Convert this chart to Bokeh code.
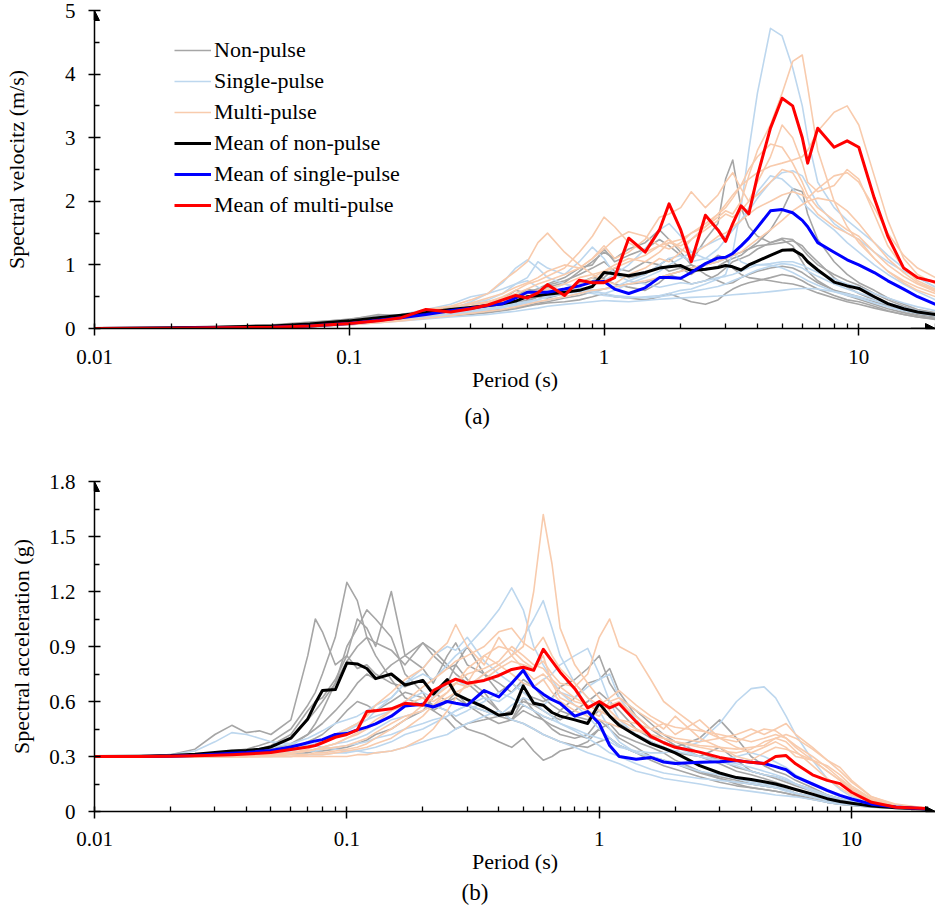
from bokeh.plotting import figure
from bokeh.layouts import column
from bokeh.models import (Range1d, FixedTicker, CustomJSTickFormatter, Legend,
                          LegendItem, Title, Arrow, NormalHead)
from bokeh.embed import file_html
from bokeh.resources import INLINE

FONT = "Liberation Serif"

# ---------------- (a) spectral velocity ----------------
period_v = [0.01, 0.02, 0.03, 0.05, 0.07,
            0.1, 0.13, 0.16, 0.2, 0.25, 0.3, 0.35, 0.4, 0.45,
            0.5, 0.55, 0.6, 0.7, 0.8, 0.9, 1.0, 1.1, 1.25,
            1.45, 1.65, 1.8, 2.0, 2.2, 2.5, 2.8, 3.0, 3.2,
            3.45, 3.7, 4.0, 4.5, 5.0, 5.5, 6.0, 6.3, 6.9,
            8.0, 9.0, 10, 11.5, 13, 15, 17, 20]

sv_non_1 = [0.0, 0.01, 0.02, 0.05, 0.09,
            0.15, 0.20, 0.22, 0.28, 0.33, 0.38, 0.42, 0.47, 0.60,
            0.55, 0.62, 0.70, 0.80, 0.95, 1.00, 1.25, 1.05, 1.15,
            1.25, 1.40, 1.30, 1.15, 1.05, 1.40, 1.65, 2.35, 2.65,
            1.90, 1.60, 1.45, 1.35, 1.40, 1.30, 1.05, 0.90, 0.75,
            0.60, 0.55, 0.50, 0.42, 0.35, 0.28, 0.24, 0.20]
sv_non_2 = [0.0, 0.01, 0.02, 0.04, 0.07,
            0.12, 0.18, 0.20, 0.22, 0.27, 0.30, 0.35, 0.40, 0.38,
            0.42, 0.50, 0.55, 0.62, 0.66, 0.75, 0.80, 0.95, 0.90,
            1.05, 1.00, 0.90, 0.95, 1.00, 0.92, 0.98, 1.05, 1.10,
            1.15, 1.25, 1.35, 1.55, 1.85, 2.20, 2.15, 1.80, 1.40,
            1.05, 0.85, 0.72, 0.60, 0.48, 0.38, 0.30, 0.25]
sv_non_3 = [0.0, 0.01, 0.02, 0.04, 0.06,
            0.10, 0.14, 0.18, 0.20, 0.25, 0.28, 0.32, 0.35, 0.40,
            0.45, 0.50, 0.48, 0.55, 0.72, 0.80, 0.78, 0.70, 0.65,
            0.60, 0.72, 0.85, 0.78, 0.70, 0.75, 0.85, 0.95, 1.05,
            1.10, 1.15, 1.25, 1.35, 1.42, 1.40, 1.25, 1.15, 1.00,
            0.85, 0.75, 0.68, 0.55, 0.45, 0.35, 0.28, 0.22]
sv_non_4 = [0.0, 0.01, 0.02, 0.04, 0.06,
            0.10, 0.13, 0.16, 0.18, 0.20, 0.22, 0.25, 0.28, 0.31,
            0.35, 0.38, 0.40, 0.42, 0.45, 0.50, 0.55, 0.50, 0.48,
            0.45, 0.50, 0.55, 0.48, 0.42, 0.38, 0.45, 0.55, 0.62,
            0.68, 0.72, 0.75, 0.80, 0.85, 0.82, 0.75, 0.70, 0.62,
            0.52, 0.45, 0.42, 0.35, 0.28, 0.22, 0.18, 0.14]
sv_non_5 = [0.0, 0.01, 0.03, 0.06, 0.10,
            0.14, 0.22, 0.20, 0.25, 0.28, 0.33, 0.38, 0.42, 0.50,
            0.62, 0.58, 0.65, 0.72, 0.90, 1.05, 1.20, 1.10, 1.25,
            1.35, 1.55, 1.40, 1.20, 1.00, 0.85, 0.75, 0.70, 0.72,
            0.80, 0.85, 0.90, 0.95, 0.98, 0.95, 0.88, 0.82, 0.72,
            0.60, 0.52, 0.46, 0.38, 0.31, 0.25, 0.20, 0.16]
sv_non_6 = [0.0, 0.01, 0.02, 0.04, 0.07,
            0.11, 0.16, 0.19, 0.24, 0.30, 0.34, 0.40, 0.45, 0.52,
            0.58, 0.62, 0.68, 0.75, 0.85, 0.95, 1.05, 0.90, 0.80,
            0.85, 1.00, 1.10, 0.95, 0.85, 1.00, 1.15, 1.10, 0.95,
            0.85, 0.80, 0.78, 0.75, 0.72, 0.70, 0.66, 0.62, 0.56,
            0.48, 0.42, 0.38, 0.32, 0.27, 0.22, 0.18, 0.15]
sv_non_7 = [0.0, 0.01, 0.02, 0.03, 0.05,
            0.09, 0.12, 0.14, 0.17, 0.21, 0.25, 0.28, 0.30, 0.33,
            0.36, 0.40, 0.42, 0.48, 0.52, 0.58, 0.62, 0.66, 0.70,
            0.72, 0.80, 0.85, 0.90, 0.95, 1.00, 1.05, 1.10, 1.15,
            1.20, 1.25, 1.30, 1.32, 1.35, 1.38, 1.30, 1.20, 1.05,
            0.80, 0.65, 0.55, 0.45, 0.36, 0.28, 0.22, 0.18]

sv_single_1 = [0.0, 0.005, 0.01, 0.02, 0.04,
               0.07, 0.11, 0.15, 0.18, 0.22, 0.28, 0.32, 0.35, 0.40,
               0.42, 0.45, 0.50, 0.55, 0.58, 0.55, 0.52, 0.50, 0.48,
               0.50, 0.52, 0.55, 0.60, 0.62, 0.70, 0.78, 0.85, 1.20,
               1.90, 2.80, 3.70, 4.72, 4.60, 4.10, 3.50, 3.00, 2.30,
               1.90, 1.70, 1.55, 1.35, 1.15, 0.95, 0.80, 0.65]
sv_single_2 = [0.0, 0.005, 0.01, 0.03, 0.05,
               0.09, 0.15, 0.20, 0.25, 0.30, 0.40, 0.45, 0.55, 0.70,
               0.75, 0.65, 0.60, 0.70, 0.65, 0.60, 0.55, 0.60, 0.70,
               0.80, 0.90, 1.00, 1.10, 1.20, 1.30, 1.40, 1.45, 1.55,
               1.70, 1.85, 2.05, 2.30, 2.45, 2.48, 2.40, 2.25, 1.95,
               1.65, 1.50, 1.40, 1.20, 1.05, 0.90, 0.80, 0.65]
sv_single_3 = [0.0, 0.005, 0.01, 0.02, 0.03,
               0.06, 0.09, 0.12, 0.15, 0.18, 0.20, 0.22, 0.25, 0.27,
               0.30, 0.32, 0.35, 0.38, 0.40, 0.42, 0.44, 0.43, 0.42,
               0.44, 0.46, 0.47, 0.48, 0.49, 0.50, 0.51, 0.52, 0.53,
               0.54, 0.55, 0.56, 0.58, 0.60, 0.62, 0.63, 0.63, 0.62,
               0.58, 0.54, 0.50, 0.44, 0.38, 0.32, 0.27, 0.22]
sv_single_4 = [0.0, 0.01, 0.02, 0.04, 0.06,
               0.10, 0.18, 0.22, 0.30, 0.38, 0.50, 0.55, 0.62, 0.70,
               0.80, 1.05, 0.95, 0.85, 1.05, 1.28, 1.10, 0.85, 0.75,
               0.70, 0.65, 0.68, 0.72, 0.70, 0.75, 0.80, 0.82, 0.85,
               0.90, 0.95, 1.00, 1.00, 0.95, 0.88, 0.80, 0.75, 0.68,
               0.58, 0.52, 0.48, 0.40, 0.34, 0.28, 0.24, 0.20]
sv_single_5 = [0.0, 0.005, 0.01, 0.02, 0.04,
               0.08, 0.12, 0.15, 0.20, 0.24, 0.27, 0.30, 0.33, 0.36,
               0.40, 0.42, 0.45, 0.50, 0.55, 0.60, 0.62, 0.65, 0.75,
               0.85, 1.00, 1.10, 1.15, 1.05, 1.10, 1.25, 1.40, 1.55,
               1.70, 1.90, 2.15, 2.40, 2.35, 2.20, 2.00, 1.90, 1.75,
               1.55, 1.35, 1.20, 1.00, 0.85, 0.70, 0.58, 0.45]
sv_single_6 = [0.0, 0.005, 0.01, 0.02, 0.04,
               0.07, 0.10, 0.13, 0.17, 0.21, 0.25, 0.29, 0.33, 0.38,
               0.42, 0.46, 0.50, 0.55, 0.60, 0.68, 0.75, 0.85, 1.00,
               1.25, 1.55, 1.65, 1.45, 1.20, 1.10, 1.05, 1.10, 1.20,
               1.05, 1.00, 1.00, 1.02, 1.05, 1.05, 1.00, 0.95, 0.88,
               0.78, 0.70, 0.65, 0.55, 0.48, 0.40, 0.34, 0.28]
sv_single_7 = [0.0, 0.005, 0.01, 0.02, 0.03,
               0.06, 0.09, 0.14, 0.20, 0.30, 0.42, 0.55, 0.72, 0.95,
               1.08, 0.95, 0.80, 0.70, 0.62, 0.58, 0.55, 0.52, 0.50,
               0.48, 0.50, 0.52, 0.55, 0.58, 0.62, 0.66, 0.70, 0.75,
               0.80, 0.86, 0.92, 0.98, 1.02, 1.00, 0.95, 0.90, 0.82,
               0.70, 0.62, 0.56, 0.48, 0.40, 0.33, 0.28, 0.23]

sv_multi_1 = [0.0, 0.005, 0.01, 0.02, 0.04,
              0.08, 0.12, 0.18, 0.28, 0.35, 0.45, 0.55, 0.75, 0.90,
              1.05, 1.35, 1.50, 1.20, 1.00, 0.85, 0.75, 0.70, 0.85,
              0.95, 1.10, 1.05, 1.20, 1.40, 1.60, 1.75, 1.85, 1.80,
              2.00, 2.40, 2.80, 3.20, 3.70, 4.20, 4.30, 3.80, 2.80,
              2.00, 1.60, 1.35, 1.10, 0.90, 0.75, 0.65, 0.55]
sv_multi_2 = [0.0, 0.005, 0.01, 0.02, 0.03,
              0.06, 0.10, 0.14, 0.22, 0.30, 0.35, 0.40, 0.45, 0.50,
              0.55, 0.58, 0.62, 0.70, 0.80, 0.85, 0.90, 0.95, 1.05,
              1.15, 1.30, 1.35, 1.40, 1.50, 1.60, 1.80, 1.95, 2.10,
              2.25, 2.35, 2.45, 2.55, 2.60, 2.65, 2.70, 2.80, 3.10,
              3.40, 3.50, 3.20, 2.40, 1.70, 1.10, 0.85, 0.70]
sv_multi_3 = [0.0, 0.005, 0.01, 0.02, 0.04,
              0.07, 0.11, 0.15, 0.20, 0.26, 0.32, 0.38, 0.42, 0.48,
              0.55, 0.60, 0.58, 0.62, 0.70, 0.80, 0.90, 1.00, 1.10,
              1.05, 1.20, 1.35, 1.30, 1.40, 1.55, 1.70, 1.80, 1.75,
              1.85, 2.00, 2.30, 2.70, 3.20, 3.00, 2.60, 2.30, 2.15,
              2.25, 2.50, 2.35, 1.80, 1.30, 0.95, 0.75, 0.62]
sv_multi_4 = [0.0, 0.005, 0.01, 0.03, 0.05,
              0.09, 0.14, 0.18, 0.25, 0.32, 0.40, 0.48, 0.55, 0.65,
              0.72, 0.80, 0.90, 1.00, 0.95, 1.10, 1.30, 1.10, 1.20,
              1.40, 1.75, 1.80, 1.90, 2.15, 1.90, 2.10, 2.30, 2.45,
              2.20, 2.00, 2.10, 2.30, 2.50, 2.45, 2.20, 2.00, 1.80,
              1.60, 1.50, 1.40, 1.10, 0.90, 0.72, 0.60, 0.50]
sv_multi_5 = [0.0, 0.01, 0.02, 0.04, 0.06,
              0.10, 0.15, 0.20, 0.30, 0.35, 0.38, 0.42, 0.50, 0.60,
              0.70, 0.75, 0.82, 0.95, 1.20, 1.45, 1.75, 1.60, 1.35,
              1.20, 1.30, 1.40, 1.25, 1.15, 1.30, 1.45, 1.50, 1.60,
              1.70, 1.80, 1.90, 2.00, 2.10, 2.15, 2.10, 2.05, 2.20,
              2.40, 2.45, 2.30, 1.90, 1.50, 1.15, 0.95, 0.80]
sv_multi_6 = [0.0, 0.005, 0.01, 0.02, 0.03,
              0.06, 0.09, 0.12, 0.16, 0.20, 0.24, 0.27, 0.30, 0.34,
              0.38, 0.42, 0.45, 0.50, 0.55, 0.60, 0.62, 0.65, 0.70,
              0.75, 0.80, 0.85, 0.90, 0.95, 1.00, 1.05, 1.10, 1.15,
              1.20, 1.30, 1.40, 1.55, 1.70, 1.85, 1.95, 2.00, 2.05,
              2.00, 1.85, 1.65, 1.35, 1.10, 0.88, 0.72, 0.60]
sv_multi_7 = [0.0, 0.005, 0.01, 0.03, 0.05,
              0.08, 0.12, 0.16, 0.22, 0.28, 0.33, 0.40, 0.48, 0.55,
              0.62, 0.70, 0.75, 0.85, 0.95, 1.10, 1.25, 1.40, 1.52,
              1.45, 1.30, 1.25, 1.35, 1.50, 1.65, 1.80, 1.90, 2.05,
              2.25, 2.50, 2.70, 2.90, 2.85, 2.60, 2.30, 2.10, 1.90,
              1.70, 1.55, 1.45, 1.20, 1.00, 0.82, 0.70, 0.58]

sv_mean_non = [0.0, 0.01, 0.02, 0.04, 0.07,
               0.12, 0.17, 0.21, 0.25, 0.30, 0.33, 0.36, 0.39, 0.43,
               0.50, 0.52, 0.54, 0.57, 0.60, 0.66, 0.88, 0.86, 0.83,
               0.88, 0.95, 0.97, 0.99, 0.91, 0.93, 0.96, 0.99, 0.97,
               0.92, 1.00, 1.06, 1.15, 1.23, 1.24, 1.15, 1.05, 0.92,
               0.73, 0.67, 0.63, 0.50, 0.39, 0.31, 0.26, 0.22]
sv_mean_single = [0.0, 0.005, 0.01, 0.02, 0.04,
                  0.08, 0.13, 0.17, 0.22, 0.28, 0.32, 0.36, 0.39, 0.48,
                  0.57, 0.57, 0.57, 0.62, 0.67, 0.73, 0.74, 0.62, 0.55,
                  0.64, 0.80, 0.80, 0.79, 0.88, 1.02, 1.11, 1.12, 1.18,
                  1.30, 1.42, 1.59, 1.85, 1.87, 1.82, 1.70, 1.60, 1.35,
                  1.20, 1.08, 1.00, 0.88, 0.75, 0.62, 0.50, 0.38]
sv_mean_multi = [0.0, 0.005, 0.01, 0.02, 0.04,
                 0.08, 0.12, 0.17, 0.30, 0.26, 0.31, 0.37, 0.45, 0.52,
                 0.48, 0.56, 0.69, 0.52, 0.76, 0.72, 0.72, 0.80, 1.42,
                 1.20, 1.55, 1.96, 1.55, 1.05, 1.78, 1.55, 1.37, 1.65,
                 1.93, 1.80, 2.40, 3.15, 3.62, 3.50, 3.00, 2.60, 3.15,
                 2.85, 2.95, 2.85, 2.05, 1.45, 0.95, 0.80, 0.73]

# ---------------- (b) spectral acceleration ----------------
period_a = [0.01, 0.015, 0.02, 0.025, 0.03, 0.035, 0.04, 0.045, 0.05, 0.06, 0.07, 0.075, 0.08, 0.09,
            0.1, 0.11, 0.12, 0.13, 0.15, 0.17, 0.2, 0.22, 0.25, 0.27, 0.3, 0.35, 0.4, 0.45, 0.5, 0.55,
            0.6, 0.65, 0.7, 0.8, 0.9,
            1.0, 1.1, 1.2, 1.4, 1.6, 1.8, 2.0, 2.5, 3.0, 3.5, 4.0, 4.5, 5.0, 5.5, 6.0, 7.0, 8.0, 9.0,
            10, 12, 15, 20]

sa_non_1 = [0.30, 0.30, 0.31, 0.34, 0.42, 0.47, 0.43, 0.44, 0.42, 0.50, 0.85, 1.05, 0.98, 0.80,
            0.85, 0.78, 0.80, 0.75, 0.70, 0.68, 0.72, 0.65, 0.60, 0.62, 0.58, 0.55, 0.52, 0.50, 0.55, 0.52, 0.50, 0.47, 0.45, 0.42, 0.40,
            0.45, 0.40, 0.36, 0.32, 0.30, 0.28, 0.26, 0.21, 0.18, 0.16, 0.15, 0.14, 0.13, 0.12, 0.10, 0.08, 0.06, 0.05,
            0.04, 0.03, 0.02, 0.012]
sa_non_2 = [0.30, 0.30, 0.30, 0.31, 0.32, 0.33, 0.34, 0.36, 0.38, 0.45, 0.58, 0.65, 0.75, 0.95,
            1.25, 1.15, 0.95, 0.92, 0.88, 0.80, 0.92, 0.85, 0.78, 0.80, 0.72, 0.65, 0.55, 0.50, 0.62, 0.55, 0.50, 0.45, 0.42, 0.40, 0.42,
            0.50, 0.45, 0.40, 0.35, 0.30, 0.28, 0.26, 0.22, 0.19, 0.17, 0.15, 0.14, 0.13, 0.12, 0.10, 0.08, 0.06, 0.05,
            0.04, 0.03, 0.02, 0.012]
sa_non_3 = [0.30, 0.30, 0.30, 0.31, 0.31, 0.32, 0.33, 0.34, 0.36, 0.42, 0.55, 0.60, 0.62, 0.72,
            0.85, 1.05, 1.00, 0.90, 1.20, 0.85, 0.78, 0.70, 0.85, 0.92, 0.80, 0.75, 0.70, 0.65, 0.72, 0.68, 0.62, 0.58, 0.55, 0.52, 0.50,
            0.55, 0.52, 0.48, 0.42, 0.38, 0.35, 0.32, 0.30, 0.35, 0.28, 0.22, 0.20, 0.18, 0.16, 0.14, 0.11, 0.08, 0.06,
            0.05, 0.035, 0.022, 0.013]
sa_non_4 = [0.30, 0.30, 0.30, 0.31, 0.31, 0.32, 0.32, 0.33, 0.35, 0.40, 0.50, 0.55, 0.60, 0.70,
            0.90, 1.00, 1.10, 1.05, 0.95, 0.75, 0.65, 0.55, 0.50, 0.45, 0.48, 0.50, 0.52, 0.55, 0.60, 0.58, 0.55, 0.52, 0.50, 0.55, 0.60,
            0.65, 0.60, 0.55, 0.45, 0.40, 0.38, 0.35, 0.40, 0.50, 0.40, 0.30, 0.25, 0.22, 0.20, 0.17, 0.13, 0.09, 0.07,
            0.05, 0.035, 0.022, 0.013]
sa_non_5 = [0.30, 0.30, 0.30, 0.30, 0.31, 0.31, 0.31, 0.32, 0.32, 0.34, 0.38, 0.40, 0.42, 0.48,
            0.55, 0.60, 0.58, 0.55, 0.60, 0.65, 0.62, 0.58, 0.55, 0.50, 0.45, 0.42, 0.38, 0.35, 0.40, 0.33, 0.28, 0.30, 0.33, 0.35, 0.38,
            0.45, 0.48, 0.42, 0.38, 0.35, 0.32, 0.28, 0.22, 0.18, 0.15, 0.13, 0.12, 0.11, 0.10, 0.09, 0.07, 0.05, 0.04,
            0.035, 0.025, 0.018, 0.012]
sa_non_6 = [0.30, 0.30, 0.30, 0.30, 0.30, 0.31, 0.31, 0.31, 0.31, 0.32, 0.32, 0.33, 0.33, 0.34,
            0.35, 0.37, 0.39, 0.42, 0.45, 0.50, 0.55, 0.62, 0.70, 0.80, 0.90, 0.75, 0.65, 0.70, 0.65, 0.62, 0.60, 0.62, 0.68, 0.72, 0.78,
            0.85, 0.70, 0.62, 0.55, 0.48, 0.42, 0.38, 0.32, 0.28, 0.24, 0.22, 0.20, 0.19, 0.17, 0.15, 0.12, 0.09, 0.07,
            0.055, 0.04, 0.025, 0.015]
sa_non_7 = [0.30, 0.30, 0.30, 0.31, 0.31, 0.32, 0.32, 0.33, 0.34, 0.37, 0.42, 0.45, 0.48, 0.55,
            0.62, 0.70, 0.75, 0.72, 0.80, 0.85, 0.92, 0.88, 0.80, 0.75, 0.70, 0.62, 0.55, 0.50, 0.48, 0.45, 0.42, 0.40, 0.38, 0.36, 0.35,
            0.38, 0.40, 0.36, 0.32, 0.28, 0.25, 0.23, 0.19, 0.16, 0.14, 0.13, 0.12, 0.11, 0.10, 0.085, 0.065, 0.05, 0.04,
            0.033, 0.024, 0.017, 0.011]
sa_non_8 = [0.30, 0.30, 0.30, 0.30, 0.31, 0.31, 0.32, 0.32, 0.33, 0.36, 0.42, 0.48, 0.55, 0.70,
            0.82, 0.90, 0.95, 0.85, 0.72, 0.62, 0.58, 0.55, 0.60, 0.65, 0.58, 0.52, 0.48, 0.50, 0.58, 0.55, 0.52, 0.50, 0.55, 0.62, 0.70,
            0.72, 0.78, 0.65, 0.52, 0.45, 0.40, 0.36, 0.30, 0.26, 0.22, 0.20, 0.18, 0.16, 0.14, 0.12, 0.09, 0.07, 0.055,
            0.045, 0.03, 0.02, 0.012]

sa_single_1 = [0.30, 0.30, 0.30, 0.30, 0.31, 0.32, 0.33, 0.34, 0.35, 0.37, 0.40, 0.42, 0.44, 0.48,
               0.50, 0.52, 0.55, 0.58, 0.62, 0.70, 0.75, 0.72, 0.80, 0.85, 0.90, 1.00, 1.10, 1.22, 1.10, 0.90, 0.80, 0.72, 0.65, 0.58, 0.52,
               0.45, 0.40, 0.36, 0.32, 0.30, 0.28, 0.26, 0.22, 0.20, 0.18, 0.16, 0.15, 0.14, 0.12, 0.10, 0.08, 0.06, 0.05,
               0.04, 0.03, 0.02, 0.012]
sa_single_2 = [0.30, 0.30, 0.30, 0.30, 0.30, 0.30, 0.31, 0.31, 0.32, 0.33, 0.35, 0.36, 0.38, 0.42,
               0.45, 0.48, 0.50, 0.52, 0.55, 0.60, 0.65, 0.62, 0.70, 0.72, 0.68, 0.75, 0.80, 0.85, 0.95, 1.05, 1.15, 1.00, 0.85, 0.70, 0.62,
               0.55, 0.45, 0.38, 0.32, 0.30, 0.28, 0.27, 0.26, 0.28, 0.30, 0.32, 0.30, 0.27, 0.24, 0.20, 0.15, 0.11, 0.08,
               0.06, 0.04, 0.025, 0.015]
sa_single_3 = [0.30, 0.30, 0.30, 0.30, 0.30, 0.30, 0.30, 0.31, 0.31, 0.32, 0.33, 0.34, 0.35, 0.37,
               0.38, 0.40, 0.42, 0.45, 0.50, 0.52, 0.55, 0.58, 0.55, 0.52, 0.55, 0.60, 0.65, 0.62, 0.58, 0.55, 0.52, 0.50, 0.48, 0.45, 0.42,
               0.40, 0.38, 0.35, 0.33, 0.32, 0.32, 0.33, 0.38, 0.48, 0.60, 0.67, 0.68, 0.62, 0.52, 0.42, 0.28, 0.18, 0.12,
               0.08, 0.045, 0.025, 0.015]
sa_single_4 = [0.30, 0.30, 0.31, 0.33, 0.38, 0.43, 0.42, 0.40, 0.38, 0.37, 0.36, 0.36, 0.35, 0.34,
               0.33, 0.33, 0.32, 0.32, 0.33, 0.35, 0.38, 0.40, 0.42, 0.45, 0.48, 0.52, 0.55, 0.50, 0.48, 0.45, 0.42, 0.40, 0.38, 0.35, 0.32,
               0.30, 0.28, 0.26, 0.22, 0.20, 0.18, 0.17, 0.15, 0.13, 0.12, 0.11, 0.10, 0.09, 0.085, 0.08, 0.065, 0.05, 0.04,
               0.035, 0.025, 0.018, 0.012]
sa_single_5 = [0.30, 0.30, 0.30, 0.30, 0.30, 0.30, 0.30, 0.31, 0.31, 0.32, 0.33, 0.33, 0.34, 0.35,
               0.36, 0.37, 0.38, 0.40, 0.42, 0.45, 0.48, 0.50, 0.52, 0.55, 0.58, 0.62, 0.60, 0.65, 0.70, 0.68, 0.72, 0.75, 0.80, 0.85, 0.89,
               0.75, 0.60, 0.50, 0.42, 0.38, 0.35, 0.33, 0.30, 0.28, 0.26, 0.24, 0.22, 0.20, 0.18, 0.15, 0.12, 0.09, 0.07,
               0.055, 0.035, 0.022, 0.013]
sa_single_6 = [0.30, 0.30, 0.30, 0.30, 0.30, 0.31, 0.31, 0.32, 0.32, 0.34, 0.36, 0.37, 0.38, 0.41,
               0.44, 0.47, 0.50, 0.55, 0.62, 0.70, 0.78, 0.85, 0.90, 0.88, 0.95, 0.82, 0.75, 0.70, 0.65, 0.60, 0.55, 0.52, 0.48, 0.44, 0.40,
               0.36, 0.32, 0.30, 0.26, 0.23, 0.21, 0.20, 0.18, 0.17, 0.16, 0.15, 0.14, 0.13, 0.11, 0.10, 0.08, 0.06, 0.05,
               0.04, 0.028, 0.02, 0.012]
sa_single_7 = [0.30, 0.30, 0.30, 0.30, 0.30, 0.30, 0.30, 0.30, 0.30, 0.30, 0.31, 0.31, 0.31, 0.32,
               0.32, 0.33, 0.34, 0.35, 0.38, 0.42, 0.45, 0.48, 0.52, 0.55, 0.58, 0.55, 0.52, 0.58, 0.62, 0.60, 0.58, 0.62, 0.65, 0.62, 0.68,
               0.72, 0.75, 0.62, 0.50, 0.42, 0.38, 0.35, 0.30, 0.27, 0.25, 0.22, 0.20, 0.19, 0.17, 0.15, 0.11, 0.08, 0.06,
               0.045, 0.03, 0.02, 0.012]

sa_multi_1 = [0.30, 0.30, 0.30, 0.30, 0.30, 0.30, 0.30, 0.31, 0.31, 0.32, 0.33, 0.34, 0.35, 0.37,
              0.40, 0.42, 0.45, 0.48, 0.55, 0.58, 0.62, 0.60, 0.65, 0.70, 0.68, 0.75, 0.80, 0.85, 0.90, 1.20, 1.62, 1.35, 1.00, 0.80, 0.70,
              0.62, 0.55, 0.50, 0.45, 0.42, 0.40, 0.38, 0.35, 0.33, 0.32, 0.34, 0.38, 0.40, 0.38, 0.33, 0.25, 0.18, 0.13,
              0.09, 0.05, 0.03, 0.016]
sa_multi_2 = [0.30, 0.30, 0.30, 0.30, 0.30, 0.30, 0.30, 0.30, 0.31, 0.32, 0.33, 0.34, 0.34, 0.35,
              0.36, 0.38, 0.40, 0.43, 0.48, 0.52, 0.55, 0.58, 0.62, 0.65, 0.68, 0.72, 0.78, 0.82, 0.80, 0.78, 0.82, 0.75, 0.70, 0.68, 0.75,
              0.95, 1.05, 0.90, 0.85, 0.72, 0.60, 0.55, 0.45, 0.40, 0.38, 0.42, 0.45, 0.44, 0.40, 0.36, 0.30, 0.24, 0.18,
              0.13, 0.07, 0.035, 0.018]
sa_multi_3 = [0.30, 0.30, 0.30, 0.30, 0.30, 0.30, 0.30, 0.30, 0.31, 0.32, 0.34, 0.36, 0.38, 0.42,
              0.45, 0.48, 0.52, 0.58, 0.65, 0.72, 0.78, 0.85, 0.92, 1.02, 0.90, 0.80, 0.95, 0.85, 0.78, 0.72, 0.75, 0.70, 0.65, 0.60, 0.58,
              0.55, 0.58, 0.60, 0.52, 0.45, 0.48, 0.42, 0.50, 0.40, 0.35, 0.32, 0.35, 0.38, 0.35, 0.30, 0.28, 0.25, 0.20,
              0.14, 0.07, 0.035, 0.018]
sa_multi_4 = [0.30, 0.30, 0.30, 0.30, 0.30, 0.30, 0.30, 0.30, 0.30, 0.31, 0.31, 0.32, 0.32, 0.33,
              0.34, 0.35, 0.37, 0.40, 0.45, 0.50, 0.58, 0.62, 0.68, 0.70, 0.75, 0.78, 0.82, 0.90, 0.85, 0.80, 0.78, 0.72, 0.68, 0.62, 0.58,
              0.55, 0.52, 0.50, 0.48, 0.45, 0.42, 0.40, 0.38, 0.40, 0.42, 0.45, 0.42, 0.45, 0.48, 0.42, 0.35, 0.28, 0.22,
              0.16, 0.08, 0.04, 0.018]
sa_multi_5 = [0.30, 0.30, 0.30, 0.30, 0.30, 0.30, 0.30, 0.30, 0.30, 0.30, 0.30, 0.30, 0.30, 0.30,
              0.30, 0.31, 0.31, 0.32, 0.33, 0.35, 0.40, 0.45, 0.55, 0.62, 0.70, 0.85, 0.90, 0.88, 0.82, 0.78, 0.85, 0.70, 0.62, 0.58, 0.55,
              0.52, 0.60, 0.62, 0.55, 0.50, 0.45, 0.52, 0.40, 0.35, 0.30, 0.28, 0.32, 0.35, 0.34, 0.32, 0.28, 0.22, 0.17,
              0.12, 0.065, 0.03, 0.016]
sa_multi_6 = [0.30, 0.30, 0.30, 0.30, 0.30, 0.30, 0.30, 0.31, 0.31, 0.32, 0.33, 0.34, 0.35, 0.37,
              0.40, 0.43, 0.46, 0.50, 0.55, 0.60, 0.68, 0.72, 0.78, 0.82, 0.85, 0.90, 0.98, 1.00, 0.92, 0.88, 0.95, 0.85, 0.78, 0.70, 0.62,
              0.58, 0.62, 0.66, 0.58, 0.52, 0.48, 0.46, 0.44, 0.42, 0.40, 0.38, 0.40, 0.42, 0.40, 0.35, 0.28, 0.22, 0.17,
              0.12, 0.06, 0.03, 0.016]
sa_multi_7 = [0.30, 0.30, 0.30, 0.30, 0.30, 0.30, 0.30, 0.30, 0.30, 0.30, 0.31, 0.31, 0.31, 0.32,
              0.33, 0.34, 0.35, 0.37, 0.40, 0.45, 0.52, 0.58, 0.65, 0.70, 0.78, 0.85, 0.80, 0.75, 0.70, 0.68, 0.72, 0.65, 0.60, 0.55, 0.52,
              0.50, 0.48, 0.46, 0.44, 0.42, 0.40, 0.38, 0.36, 0.35, 0.34, 0.35, 0.36, 0.40, 0.42, 0.40, 0.34, 0.28, 0.24,
              0.17, 0.08, 0.035, 0.018]

sa_mean_non = [0.300, 0.301, 0.305, 0.312, 0.322, 0.330, 0.333, 0.340, 0.352, 0.400, 0.505, 0.590, 0.660, 0.665,
               0.810, 0.805, 0.780, 0.725, 0.750, 0.690, 0.715, 0.640, 0.720, 0.640, 0.610, 0.570, 0.525, 0.535, 0.685, 0.590,
               0.580, 0.540, 0.520, 0.500, 0.480,
               0.590, 0.520, 0.470, 0.415, 0.370, 0.345, 0.320, 0.250, 0.210, 0.185, 0.175, 0.162, 0.150, 0.135, 0.120, 0.095,
               0.070, 0.055,
               0.045, 0.030, 0.020, 0.013]
sa_mean_single = [0.300, 0.300, 0.302, 0.306, 0.312, 0.318, 0.322, 0.328, 0.333, 0.352, 0.375, 0.385, 0.392, 0.420,
                  0.425, 0.445, 0.460, 0.478, 0.520, 0.575, 0.585, 0.570, 0.600, 0.590, 0.580, 0.660, 0.625, 0.700, 0.770, 0.680,
                  0.640, 0.610, 0.590, 0.520, 0.545,
                  0.480, 0.360, 0.300, 0.285, 0.295, 0.270, 0.262, 0.268, 0.272, 0.278, 0.268, 0.262, 0.245, 0.228, 0.190, 0.150,
                  0.115, 0.088,
                  0.068, 0.040, 0.024, 0.014]
sa_mean_multi = [0.300, 0.300, 0.302, 0.304, 0.307, 0.310, 0.314, 0.318, 0.322, 0.338, 0.352, 0.360, 0.375, 0.405,
                 0.420, 0.445, 0.545, 0.550, 0.560, 0.590, 0.580, 0.660, 0.700, 0.722, 0.700, 0.715, 0.742, 0.775, 0.787, 0.770,
                 0.885, 0.820, 0.760, 0.670, 0.565,
                 0.600, 0.565, 0.588, 0.490, 0.410, 0.375, 0.350, 0.324, 0.295, 0.278, 0.268, 0.262, 0.300, 0.305, 0.260, 0.200,
                 0.170, 0.152,
                 0.105, 0.050, 0.023, 0.016]

x_major = [0.01, 0.1, 1, 10]
x_minor = [0.02, 0.03, 0.04, 0.05, 0.06, 0.07, 0.08, 0.09,
           0.2, 0.3, 0.4, 0.5, 0.6, 0.7, 0.8, 0.9,
           2, 3, 4, 5, 6, 7, 8, 9, 20]
yv_major = [0, 1, 2, 3, 4, 5]
yv_minor = [0.5, 1.5, 2.5, 3.5, 4.5]
ya_major = [0, 0.3, 0.6, 0.9, 1.2, 1.5, 1.8]
ya_minor = [0.15, 0.45, 0.75, 1.05, 1.35, 1.65]

C_NON, C_SINGLE, C_MULTI = "#a6a6a6", "#bdd7ee", "#f8cbad"
C_MNON, C_MSINGLE, C_MMULTI = "#000000", "#0000ff", "#ff0000"

fmt = CustomJSTickFormatter(code="return Number(tick.toFixed(2)).toString();")


def make_fig(height, b_left, b_right, b_top, b_bottom, xmax, ymax, ymaj, ymin, ylabel,
             ylabel_standoff, xl_standoff, xlab_standoff, panel, panel_offset, panel_standoff):
    p = figure(width=935, height=height, x_axis_type="log",
               x_range=Range1d(0.01, xmax), y_range=Range1d(0, ymax),
               output_backend="svg", toolbar_location=None,
               min_border_left=b_left, min_border_right=b_right,
               min_border_top=b_top, min_border_bottom=b_bottom)
    p.grid.visible = False
    p.outline_line_color = None
    p.border_fill_color = "white"
    p.background_fill_color = "white"

    xa = p.xaxis[0]
    xa.ticker = FixedTicker(ticks=x_major, minor_ticks=x_minor)
    xa.formatter = fmt
    xa.major_tick_in = 5
    xa.major_tick_out = 7
    xa.minor_tick_in = 5
    xa.minor_tick_out = 0
    xa.major_label_standoff = xl_standoff
    xa.axis_label = "Period (s)"
    xa.axis_label_standoff = xlab_standoff

    ya = p.yaxis[0]
    ya.ticker = FixedTicker(ticks=ymaj, minor_ticks=ymin)
    ya.formatter = fmt
    ya.major_tick_in = 6
    ya.major_tick_out = 6
    ya.minor_tick_in = 5
    ya.minor_tick_out = 0
    ya.major_label_standoff = 13
    ya.axis_label = ylabel
    ya.axis_label_standoff = ylabel_standoff

    for ax in (xa, ya):
        ax.axis_line_width = 1.5
        ax.axis_line_color = "black"
        ax.major_tick_line_width = 1.5
        ax.minor_tick_line_width = 1.3
        ax.major_tick_line_color = "black"
        ax.minor_tick_line_color = "black"
        ax.major_label_text_font = FONT
        ax.major_label_text_font_size = "21px"
        ax.major_label_text_color = "black"
        ax.axis_label_text_font = FONT
        ax.axis_label_text_font_size = "22px"
        ax.axis_label_text_font_style = "normal"
        ax.axis_label_text_color = "black"

    p.add_layout(Title(text=panel, align="left", offset=panel_offset, standoff=panel_standoff,
                       text_font=FONT, text_font_size="23px", text_font_style="normal",
                       text_color="black"), "below")

    # axis arrow heads
    p.add_layout(Arrow(end=NormalHead(size=10, fill_color="black", line_color="black", line_width=1),
                       x_start=0.01, y_start=ymax * 0.97, x_end=0.01, y_end=ymax,
                       line_color="black", line_width=1.5))
    p.add_layout(Arrow(end=NormalHead(size=10, fill_color="black", line_color="black", line_width=1),
                       x_start=xmax * 0.8, y_start=0, x_end=xmax, y_end=0,
                       line_color="black", line_width=1.5))
    return p


def add_lines(p, periods, non, single, multi, m_non, m_single, m_multi):
    r_non = [p.line(periods, v, line_color=C_NON, line_width=1.6, line_join="round") for v in non]
    r_single = [p.line(periods, v, line_color=C_SINGLE, line_width=1.6, line_join="round") for v in single]
    r_multi = [p.line(periods, v, line_color=C_MULTI, line_width=1.6, line_join="round") for v in multi]
    rm_non = p.line(periods, m_non, line_color=C_MNON, line_width=3, line_join="round")
    rm_single = p.line(periods, m_single, line_color=C_MSINGLE, line_width=3, line_join="round")
    rm_multi = p.line(periods, m_multi, line_color=C_MMULTI, line_width=3, line_join="round")
    return r_non, r_single, r_multi, rm_non, rm_single, rm_multi


# ---- top panel ----
p1 = make_fig(440, 91, 0, 10, 112, 20, 5, yv_major, yv_minor,
              "Spectral velocitz (m/s)", 33, 14, 0, "(a)", 370, 14)
r = add_lines(p1, period_v,
              [sv_non_1, sv_non_2, sv_non_3, sv_non_4, sv_non_5, sv_non_6, sv_non_7],
              [sv_single_1, sv_single_2, sv_single_3, sv_single_4, sv_single_5, sv_single_6, sv_single_7],
              [sv_multi_1, sv_multi_2, sv_multi_3, sv_multi_4, sv_multi_5, sv_multi_6, sv_multi_7],
              sv_mean_non, sv_mean_single, sv_mean_multi)

legend = Legend(items=[
    LegendItem(label="Non-pulse", renderers=[r[0][0]]),
    LegendItem(label="Single-pulse", renderers=[r[1][0]]),
    LegendItem(label="Multi-pulse", renderers=[r[2][0]]),
    LegendItem(label="Mean of non-pulse", renderers=[r[3]]),
    LegendItem(label="Mean of single-pulse", renderers=[r[4]]),
    LegendItem(label="Mean of multi-pulse", renderers=[r[5]]),
], location=(80, 110), orientation="vertical",
    glyph_width=37, glyph_height=22, label_height=22, label_standoff=3,
    spacing=5, padding=0, margin=0,
    border_line_color=None, background_fill_alpha=0,
    label_text_font=FONT, label_text_font_size="22px", label_text_color="black")
p1.add_layout(legend)

# ---- bottom panel ----
p2 = make_fig(468, 92, 0, 41, 97, 21.5, 1.8, ya_major, ya_minor,
              "Spectral acceleration (g)", 12, 13, 0, "(b)", 367, 2)
add_lines(p2, period_a,
          [sa_non_1, sa_non_2, sa_non_3, sa_non_4, sa_non_5, sa_non_6, sa_non_7, sa_non_8],
          [sa_single_1, sa_single_2, sa_single_3, sa_single_4, sa_single_5, sa_single_6, sa_single_7],
          [sa_multi_1, sa_multi_2, sa_multi_3, sa_multi_4, sa_multi_5, sa_multi_6, sa_multi_7],
          sa_mean_non, sa_mean_single, sa_mean_multi)

layout = column(p1, p2, spacing=0)
open("out.html", "w").write(file_html(layout, INLINE))
